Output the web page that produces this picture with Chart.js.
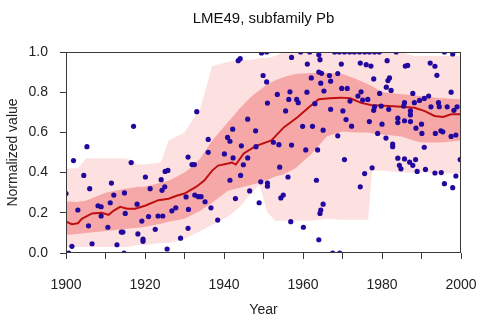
<!DOCTYPE html>
<html>
<head>
<meta charset="utf-8">
<script src="https://cdn.jsdelivr.net/npm/chart.js@4"></script>
<style>
  html, body { margin: 0; padding: 0; background: #fff; }
</style>
</head>
<body>
<canvas id="pbChart" width="480" height="320"></canvas>
<script>
// band edges (quantile envelopes), sampled at the same years
const bandYears = [1900, 1903, 1905, 1910, 1915, 1917, 1918, 1920, 1924, 1926,
  1930, 1932, 1934, 1937, 1941, 1944, 1947, 1949, 1951, 1953,
  1955, 1958, 1962, 1966, 1970, 1973, 1976.5, 1977.5, 1980, 1985,
  1988, 1990, 1995, 2000];
const outerHi = [0.42, 0.42, 0.47, 0.47, 0.47, 0.46, 0.44, 0.44, 0.45, 0.56,
  0.60, 0.66, 0.72, 0.93, 0.95, 0.96, 0.96, 0.97, 0.97, 0.98,
  1.0, 1.0, 1.0, 1.0, 1.0, 1.0, 1.0, 1.0, 1.0, 1.0,
  0.98, 0.98, 0.98, 0.98];
const outerLo = [0.03, 0.03, 0.03, 0.03, 0.03, 0.035, 0.04, 0.04, 0.05, 0.05,
  0.07, 0.09, 0.11, 0.14, 0.18, 0.23, 0.30, 0.34, 0.20, 0.16,
  0.16, 0.16, 0.16, 0.17, 0.165, 0.165, 0.165, 0.41, 0.41, 0.40,
  0.40, 0.40, 0.395, 0.395];
const innerHi = [0.255, 0.255, 0.26, 0.30, 0.32, 0.325, 0.33, 0.33, 0.35, 0.36,
  0.40, 0.43, 0.47, 0.56, 0.65, 0.72, 0.78, 0.81, 0.84, 0.86,
  0.875, 0.89, 0.895, 0.895, 0.89, 0.87, 0.84, 0.83, 0.80, 0.79,
  0.785, 0.78, 0.77, 0.765];
const innerLo = [0.09, 0.095, 0.10, 0.11, 0.12, 0.125, 0.125, 0.13, 0.145, 0.155,
  0.17, 0.19, 0.21, 0.25, 0.31, 0.325, 0.34, 0.35, 0.365, 0.38,
  0.39, 0.42, 0.49, 0.58, 0.605, 0.60, 0.60, 0.595, 0.59, 0.58,
  0.56, 0.55, 0.55, 0.56];

// running median
const medianYears = [1900, 1901.5, 1903, 1904, 1906.6, 1909, 1910.8, 1912, 1913.7, 1915.5,
  1917.5, 1920, 1923.4, 1926, 1928, 1930, 1933, 1935, 1937, 1938.5,
  1941, 1942, 1943, 1945, 1948, 1952, 1955.2, 1958.6, 1961.5, 1964,
  1966.8, 1969.6, 1972, 1974.7, 1977.2, 1983, 1988.2, 1990.7, 1993.3, 1995.5,
  1997.5, 2000];
const medianValues = [0.156, 0.143, 0.148, 0.17, 0.197, 0.2, 0.19, 0.21, 0.23, 0.22,
  0.22, 0.235, 0.263, 0.27, 0.285, 0.296, 0.33, 0.36, 0.41, 0.435,
  0.445, 0.45, 0.44, 0.495, 0.532, 0.56, 0.626, 0.675, 0.725, 0.765,
  0.77, 0.773, 0.77, 0.747, 0.736, 0.73, 0.723, 0.707, 0.682, 0.677,
  0.69, 0.69];

// individual samples
const pointYears = [
  1900.0, 1900.7, 1901.5, 1901.9, 1903.0, 1904.5, 1905.3, 1906.0, 1905.7, 1906.6,
  1908.1, 1908.9, 1908.9, 1910.6, 1911.5, 1911.2, 1912.1, 1912.9, 1914.0, 1914.4,
  1914.8, 1915.0, 1914.7, 1916.5, 1917.1, 1918.0, 1918.2, 1919.2, 1919.5, 1919.5,
  1920.1, 1920.9, 1921.3, 1922.6, 1923.3, 1924.1, 1924.3, 1924.5, 1925.0, 1925.1,
  1925.8, 1925.6, 1926.8, 1927.8, 1929.0, 1930.4, 1930.9, 1931.0, 1930.9, 1931.9,
  1932.5, 1933.1,
  1943.6, 1944.1, 1949.5, 1950.8, 1949.9, 1950.8, 1957.1, 1959.4, 1961.7, 1964.0,
  1964.3, 1961.1, 1964.0, 1964.7, 1962.1, 1964.5, 1965.3, 1953.5, 1956.7, 1951.0,
  1956.4, 1958.4, 1958.8, 1961.0, 1963.0, 1955.6, 1946.0, 1942.2, 1948.0, 1936.0,
  1936.0, 1940.9, 1941.5, 1944.4, 1948.1, 1952.5, 1953.9, 1957.1, 1959.9, 1962.4,
  1965.1, 1940.1, 1942.3, 1946.0, 1944.9, 1944.2, 1941.5, 1960.7, 1963.7, 1954.1,
  1956.2, 1949.3, 1951.0, 1951.0, 1963.4, 1932.6, 1933.5, 1934.2, 1935.2, 1936.7,
  1938.4, 1942.9, 1946.5, 1948.9, 1954.4, 1955.0, 1965.1, 1964.5, 1964.3, 1956.9,
  1960.1, 1964.0,
  1968.0, 1969.2, 1970.5, 1971.8, 1973.0, 1974.3, 1975.6, 1976.8, 1978.1, 1979.3,
  1983.6, 1995.8, 1997.9, 1969.7, 1974.5, 1976.0, 1977.2, 1981.3, 1985.9, 1986.5,
  1992.2, 1993.4, 1993.9, 1966.7, 1967.0, 1968.8, 1977.9, 1981.5, 1981.9, 1981.1,
  1969.8, 1971.2, 1982.3, 1979.4, 1974.7, 1973.9, 1975.1, 1976.4, 1971.9, 1987.8,
  1997.5, 1967.0, 1970.1, 1970.9, 1972.3, 1977.9, 1978.1, 1979.8, 1981.7, 1985.7,
  1985.5, 1987.2, 1987.2, 1988.2, 1989.5, 1990.7, 1991.8, 1976.8, 1980.0, 1984.0,
  1984.0, 1985.7, 1987.2, 1988.6, 1990.0, 1990.1, 1992.4, 1994.3, 1994.5, 1996.5,
  1998.2, 1999.0, 1993.5, 1994.9, 1995.4, 1997.5, 1998.7, 1968.8, 1978.9, 1981.0,
  1982.7, 1982.7, 1990.7, 1970.5, 1975.6, 1974.5, 1977.5, 1984.0, 1985.7, 1987.0,
  1988.5, 1984.4, 1984.8, 1987.8, 1988.9, 1991.0, 1993.4, 1995.0, 1998.7, 1995.8,
  1997.9, 1999.8, 1967.5, 1969.3
];
const pointValues = [
  0.296, 0.0, 0.033, 0.46, 0.214, 0.386, 0.529, 0.32, 0.135, 0.046,
  0.235, 0.23, 0.184, 0.128, 0.348, 0.25, 0.288, 0.041, 0.104, 0.104,
  0.299, 0.197, 0.0, 0.45, 0.63, 0.243, 0.095, 0.159, 0.069, 0.058,
  0.378, 0.181, 0.32, 0.118, 0.184, 0.365, 0.312, 0.184, 0.329, 0.406,
  0.411, 0.02, 0.21, 0.225, 0.074, 0.279, 0.477, 0.217, 0.123, 0.44,
  0.44, 0.703,
  0.957, 0.967, 0.995, 1.0, 0.883, 0.851, 0.973, 1.0, 1.0, 0.986,
  0.962, 0.94, 0.9, 0.894, 0.871, 0.845, 0.806, 0.789, 0.802, 0.746,
  0.764, 0.764, 0.748, 0.8, 0.743, 0.707, 0.666, 0.616, 0.608, 0.565,
  0.501, 0.575, 0.556, 0.533, 0.529, 0.551, 0.539, 0.537, 0.63, 0.63,
  0.611, 0.493, 0.473, 0.473, 0.439, 0.386, 0.362, 0.513, 0.513, 0.427,
  0.378, 0.354, 0.348, 0.332, 0.362, 0.288, 0.28, 0.28, 0.255, 0.225,
  0.164, 0.271, 0.309, 0.25, 0.274, 0.288, 0.243, 0.214, 0.197, 0.156,
  0.128, 0.066,
  1.0, 1.0, 1.0, 1.0, 1.0, 1.0, 1.0, 1.0, 1.0, 1.0,
  1.0, 1.0, 0.99, 0.94, 0.945, 0.937, 0.93, 0.957, 0.93, 0.933,
  0.945, 0.929, 0.884, 0.883, 0.855, 0.893, 0.866, 0.858, 0.871, 0.825,
  0.819, 0.819, 0.809, 0.794, 0.802, 0.781, 0.761, 0.764, 0.756, 0.794,
  0.8, 0.715, 0.707, 0.664, 0.631, 0.71, 0.727, 0.731, 0.715, 0.748,
  0.731, 0.707, 0.687, 0.748, 0.759, 0.769, 0.781, 0.654, 0.641, 0.671,
  0.649, 0.658, 0.654, 0.621, 0.641, 0.595, 0.727, 0.748, 0.728, 0.727,
  0.71, 0.727, 0.595, 0.608, 0.603, 0.58, 0.587, 0.583, 0.595, 0.572,
  0.542, 0.529, 0.526, 0.465, 0.395, 0.329, 0.424, 0.472, 0.468, 0.452,
  0.465, 0.436, 0.419, 0.436, 0.406, 0.416, 0.398, 0.4, 0.383, 0.345,
  0.325, 0.465, 0.0, 0.0
];

const xy = (xs, ys) => xs.map((x, i) => ({ x: x, y: ys[i] }));

const FONT = "'Liberation Sans', Arial, sans-serif";
const AXIS = "#3a3a3a";

const boxPlugin = {
  id: "box",
  afterDraw(chart) {
    const a = chart.chartArea;
    const c = chart.ctx;
    c.save();
    c.strokeStyle = AXIS;
    c.lineWidth = 1;
    c.strokeRect(Math.round(a.left) + 0.5, Math.round(a.top) + 0.5,
      Math.round(a.right - a.left) - 1, Math.round(a.bottom - a.top) - 1);
    c.restore();
  }
};

const band = (data, color, fill, order) => ({
  type: "line",
  data: data,
  borderWidth: 0,
  borderColor: "rgba(0,0,0,0)",
  backgroundColor: color,
  pointRadius: 0,
  tension: 0,
  fill: fill,
  order: order
});

new Chart(document.getElementById("pbChart"), {
  type: "scatter",
  data: {
    datasets: [
      {
        type: "scatter",
        data: xy(pointYears, pointValues),
        pointRadius: 2.6,
        pointBorderWidth: 0,
        backgroundColor: "#22089e",
        borderColor: "#22089e",
        order: 0
      },
      {
        type: "line",
        data: xy(medianYears, medianValues),
        borderColor: "#bf1010",
        borderWidth: 2,
        pointRadius: 0,
        tension: 0,
        fill: false,
        order: 1
      },
      band(xy(bandYears, innerHi), "#f6a8a8", "+1", 2),
      band(xy(bandYears, innerLo), "rgba(0,0,0,0)", false, 3),
      band(xy(bandYears, outerHi), "#fde0e0", "+1", 4),
      band(xy(bandYears, outerLo), "rgba(0,0,0,0)", false, 5)
    ]
  },
  options: {
    responsive: false,
    animation: false,
    layout: { padding: { left: 0, right: 19, top: 0, bottom: 0 } },
    plugins: {
      legend: { display: false },
      tooltip: { enabled: false },
      title: {
        display: true,
        fullSize: false,
        text: "LME49, subfamily Pb",
        color: "#111",
        font: { family: FONT, size: 15, weight: "normal" },
        padding: { top: 10, bottom: 24 }
      }
    },
    scales: {
      x: {
        type: "linear",
        min: 1900,
        max: 2000,
        afterFit: s => { s.height = 67; s.paddingLeft = 0; s.paddingRight = 0; },
        border: { display: false },
        grid: { drawOnChartArea: false, drawTicks: true, tickLength: 6, color: AXIS },
        ticks: {
          stepSize: 10,
          autoSkip: false,
          maxRotation: 0,
          padding: 18,
          color: "#222",
          font: { family: FONT, size: 14 },
          callback: v => (v % 20 === 0 ? String(v) : "")
        },
        title: {
          display: true,
          text: "Year",
          color: "#222",
          font: { family: FONT, size: 14 },
          padding: { top: 0, bottom: 1 }
        }
      },
      y: {
        min: 0,
        max: 1,
        afterFit: s => { s.width = 66; s.paddingTop = 0; s.paddingBottom = 0; },
        border: { display: false },
        grid: { drawOnChartArea: false, drawTicks: true, tickLength: 6, color: AXIS },
        ticks: {
          stepSize: 0.2,
          padding: 12,
          color: "#222",
          font: { family: FONT, size: 14 },
          callback: v => v.toFixed(1)
        },
        title: {
          display: true,
          text: "Normalized value",
          color: "#222",
          font: { family: FONT, size: 14 },
          padding: { top: 5, bottom: 0 }
        }
      }
    }
  },
  plugins: [boxPlugin]
});
</script>
</body>
</html>
